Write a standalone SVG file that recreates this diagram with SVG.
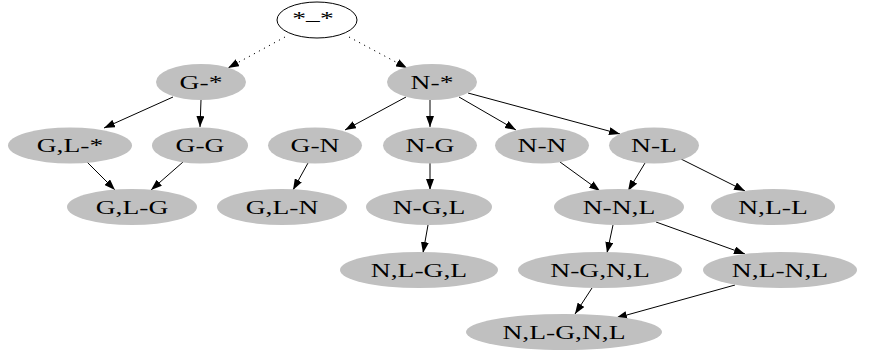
<svg xmlns="http://www.w3.org/2000/svg" width="872" height="352" viewBox="0 0 872 352">
  <style>
    .node { fill: #c0c0c0; stroke: none; }
    .start { fill: #ffffff; stroke: #000000; stroke-width: 1; }
    text { font-family: "Liberation Serif", "Times New Roman", serif; font-size: 19px; text-anchor: middle; fill: #000000; }
    .edge { stroke: #000000; stroke-width: 1; fill: none; marker-end: url(#arrow); }
    .dotted { stroke-dasharray: 1.2 4.5; }
  </style>
  <defs>
    <marker id="arrow" viewBox="0 0 11 8" refX="11" refY="4" markerWidth="11" markerHeight="8" markerUnits="userSpaceOnUse" orient="auto">
      <path d="M0,0 L11,4 L0,8 Z" fill="#000000"/>
    </marker>
  </defs>

  <!-- connectors -->
  <g id="edges">
    <line class="edge dotted" x1="285" y1="37" x2="228" y2="68"/>
    <line class="edge dotted" x1="349" y1="37" x2="407" y2="68"/>
    <line class="edge" x1="173" y1="97" x2="104" y2="128"/>
    <line class="edge" x1="201" y1="100" x2="200" y2="127"/>
    <line class="edge" x1="406" y1="97" x2="345" y2="130"/>
    <line class="edge" x1="430" y1="100" x2="430" y2="127"/>
    <line class="edge" x1="459" y1="97" x2="516" y2="130"/>
    <line class="edge" x1="468" y1="93" x2="620" y2="134"/>
    <line class="edge" x1="87" y1="162" x2="115" y2="190"/>
    <line class="edge" x1="183" y1="162" x2="151" y2="190"/>
    <line class="edge" x1="308" y1="163" x2="293" y2="190"/>
    <line class="edge" x1="430" y1="163" x2="430" y2="190"/>
    <line class="edge" x1="560" y1="162" x2="600" y2="191"/>
    <line class="edge" x1="645" y1="163" x2="628" y2="191"/>
    <line class="edge" x1="681" y1="159" x2="745" y2="191"/>
    <line class="edge" x1="428" y1="225" x2="423" y2="253"/>
    <line class="edge" x1="613" y1="225" x2="607" y2="253"/>
    <line class="edge" x1="656" y1="222" x2="745" y2="254"/>
    <line class="edge" x1="592" y1="288" x2="575" y2="314"/>
    <line class="edge" x1="735" y1="285" x2="616" y2="318"/>
  </g>

  <!-- rank 0 -->
  <g id="n-root"><ellipse class="start" cx="317" cy="20" rx="40" ry="18"/><text transform="translate(313,24.5) scale(1.45,1)">*<tspan dy="-5">_</tspan><tspan dy="5">*</tspan></text></g>

  <!-- rank 1 -->
  <g id="n-G-any"><ellipse class="node" cx="201" cy="82" rx="45" ry="18"/><text transform="translate(201,88.5) scale(1.45,1)">G-*</text></g>
  <g id="n-N-any"><ellipse class="node" cx="432" cy="82" rx="45" ry="18"/><text transform="translate(432,88.5) scale(1.45,1)">N-*</text></g>

  <!-- rank 2 -->
  <g id="n-GL-any"><ellipse class="node" cx="70" cy="145.5" rx="62" ry="18"/><text transform="translate(70,152) scale(1.45,1)">G,L-*</text></g>
  <g id="n-G-G"><ellipse class="node" cx="200" cy="145.5" rx="48" ry="18"/><text transform="translate(200,152) scale(1.45,1)">G-G</text></g>
  <g id="n-G-N"><ellipse class="node" cx="315" cy="145.5" rx="47" ry="18"/><text transform="translate(315,152) scale(1.45,1)">G-N</text></g>
  <g id="n-N-G"><ellipse class="node" cx="430" cy="145.5" rx="47" ry="18"/><text transform="translate(430,152) scale(1.45,1)">N-G</text></g>
  <g id="n-N-N"><ellipse class="node" cx="542" cy="145.5" rx="47" ry="18"/><text transform="translate(542,152) scale(1.45,1)">N-N</text></g>
  <g id="n-N-L"><ellipse class="node" cx="654" cy="145.5" rx="45" ry="18"/><text transform="translate(654,152) scale(1.45,1)">N-L</text></g>

  <!-- rank 3 -->
  <g id="n-GL-G"><ellipse class="node" cx="132" cy="207" rx="65" ry="18"/><text transform="translate(132,213.5) scale(1.45,1)">G,L-G</text></g>
  <g id="n-GL-N"><ellipse class="node" cx="282" cy="207" rx="65" ry="18"/><text transform="translate(282,213.5) scale(1.45,1)">G,L-N</text></g>
  <g id="n-N-GL"><ellipse class="node" cx="429" cy="207" rx="63" ry="18"/><text transform="translate(429,213.5) scale(1.45,1)">N-G,L</text></g>
  <g id="n-N-NL"><ellipse class="node" cx="619" cy="207" rx="65" ry="18"/><text transform="translate(619,213.5) scale(1.45,1)">N-N,L</text></g>
  <g id="n-NL-L"><ellipse class="node" cx="773" cy="207" rx="62" ry="18"/><text transform="translate(773,213.5) scale(1.45,1)">N,L-L</text></g>

  <!-- rank 4 -->
  <g id="n-NL-GL"><ellipse class="node" cx="419" cy="270" rx="79" ry="18"/><text transform="translate(419,276.5) scale(1.45,1)">N,L-G,L</text></g>
  <g id="n-N-GNL"><ellipse class="node" cx="600" cy="270" rx="82" ry="18"/><text transform="translate(600,276.5) scale(1.45,1)">N-G,N,L</text></g>
  <g id="n-NL-NL"><ellipse class="node" cx="780" cy="270" rx="77" ry="18"/><text transform="translate(780,276.5) scale(1.45,1)">N,L-N,L</text></g>

  <!-- rank 5 -->
  <g id="n-NL-GNL"><ellipse class="node" cx="564" cy="332" rx="98" ry="18"/><text transform="translate(564,338.5) scale(1.45,1)">N,L-G,N,L</text></g>
</svg>
